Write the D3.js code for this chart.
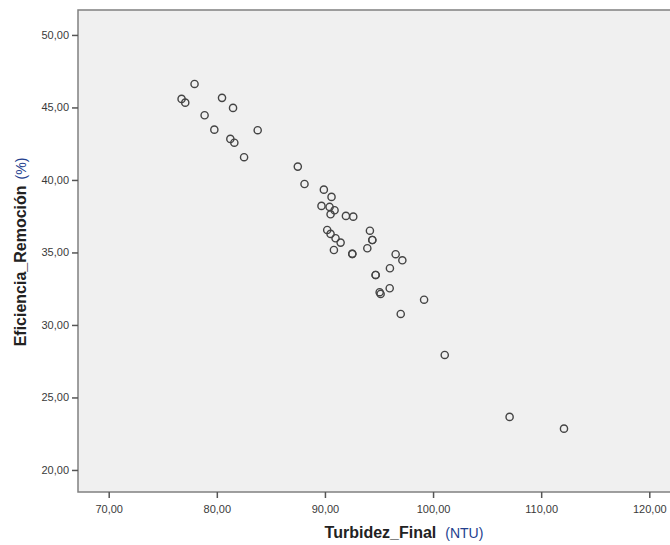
<!DOCTYPE html>
<html>
<head>
<meta charset="utf-8">
<script src="https://cdn.jsdelivr.net/npm/d3@7"></script>
<style>
  body { margin: 0; background: #fff; }
  text { font-family: "Liberation Sans", Arial, sans-serif; }
</style>
</head>
<body>
<div id="canvas"></div>
<script>
// Turbidez_Final (NTU) vs Eficiencia_Remoción (%)
const turbidez = [
    77.94, 76.74, 77.08, 80.48, 81.50, 78.87, 79.77, 83.78, 81.25, 81.62,
    82.52, 87.49, 88.11, 89.90, 90.61, 89.68, 90.43, 90.89, 90.52, 91.94,
    92.62, 90.21, 90.52, 90.98, 91.45, 90.83, 92.53, 92.53, 94.16, 94.38,
    94.38, 93.92, 96.54, 97.16, 96.01, 94.69, 94.69, 95.99, 95.06, 95.15,
    99.17, 97.01, 101.08, 107.08, 112.11
];
const eficiencia = [
    46.62, 45.59, 45.33, 45.66, 44.97, 44.46, 43.47, 43.43, 42.83, 42.57,
    41.57, 40.92, 39.72, 39.33, 38.83, 38.21, 38.14, 37.91, 37.63, 37.52,
    37.47, 36.55, 36.28, 35.98, 35.68, 35.17, 34.90, 34.90, 36.50, 35.86,
    35.86, 35.29, 34.88, 34.46, 33.91, 33.45, 33.45, 32.53, 32.26, 32.14,
    31.74, 30.76, 27.93, 23.66, 22.85
];
const xTicks = [70, 80, 90, 100, 110, 120];
const yTicks = [20, 25, 30, 35, 40, 45, 50];

const data = turbidez.map((t, i) => ({ x: t, y: eficiencia[i] }));

const width = 670;
const height = 545;
const margin = { top: 10, left: 78, bottom: 53, right: -2 };
const iwidth = width - margin.left - margin.right;
const iheight = height - margin.top - margin.bottom;

const svg = d3.select("#canvas").append("svg")
    .attr("width", width)
    .attr("height", height);

const g = svg.append("g").attr("transform", `translate(${margin.left},${margin.top})`);

const x = d3.scaleLinear()
    .domain([67.16, 122.1])
    .range([0, iwidth]);

const y = d3.scaleLinear()
    .domain([18.48, 51.72])
    .range([iheight, 0]);

const fmt = d => d.toFixed(2).replace(".", ",");

g.append("rect")
    .attr("width", iwidth)
    .attr("height", iheight)
    .style("fill", "#f0f0f0")
    .style("stroke", "#808080")
    .style("stroke-width", 1.5);

const xAxis = g.append("g")
    .attr("transform", `translate(0, ${iheight})`)
    .call(d3.axisBottom(x).tickValues(xTicks).tickFormat(fmt).tickSize(6).tickSizeOuter(0));

const yAxis = g.append("g")
    .call(d3.axisLeft(y).tickValues(yTicks).tickFormat(fmt).tickSize(6).tickSizeOuter(0));

[xAxis, yAxis].forEach(a => {
    a.select(".domain").remove();
    a.selectAll(".tick line").style("stroke", "#555").style("stroke-width", 1.5);
    a.selectAll(".tick text")
        .style("font-family", "Liberation Sans, Arial, sans-serif")
        .style("font-size", "11px")
        .style("fill", "#3a3a3a");
});
xAxis.selectAll(".tick text").attr("dy", "1.1em");

g.selectAll("circle").data(data).enter().append("circle")
    .attr("cx", d => x(d.x))
    .attr("cy", d => y(d.y))
    .attr("r", 3.6)
    .style("fill", "none")
    .style("stroke", "#444")
    .style("stroke-width", 1.4);

// axis titles
const xTitle = svg.append("text")
    .attr("x", 404)
    .attr("y", 538)
    .attr("text-anchor", "middle");
xTitle.append("tspan").text("Turbidez_Final")
    .style("font-weight", "bold").style("font-size", "16px").style("fill", "#222");
xTitle.append("tspan").text("(NTU)")
    .attr("dx", 9)
    .style("font-size", "14px").style("fill", "#23408e");

const yTitle = svg.append("text")
    .attr("transform", "translate(26, 252) rotate(-90)")
    .attr("text-anchor", "middle");
yTitle.append("tspan").text("Eficiencia_Remoción")
    .style("font-weight", "bold").style("font-size", "16px").style("fill", "#222");
yTitle.append("tspan").text("(%)")
    .attr("dx", 6)
    .style("font-size", "14px").style("fill", "#23408e");
</script>
</body>
</html>
